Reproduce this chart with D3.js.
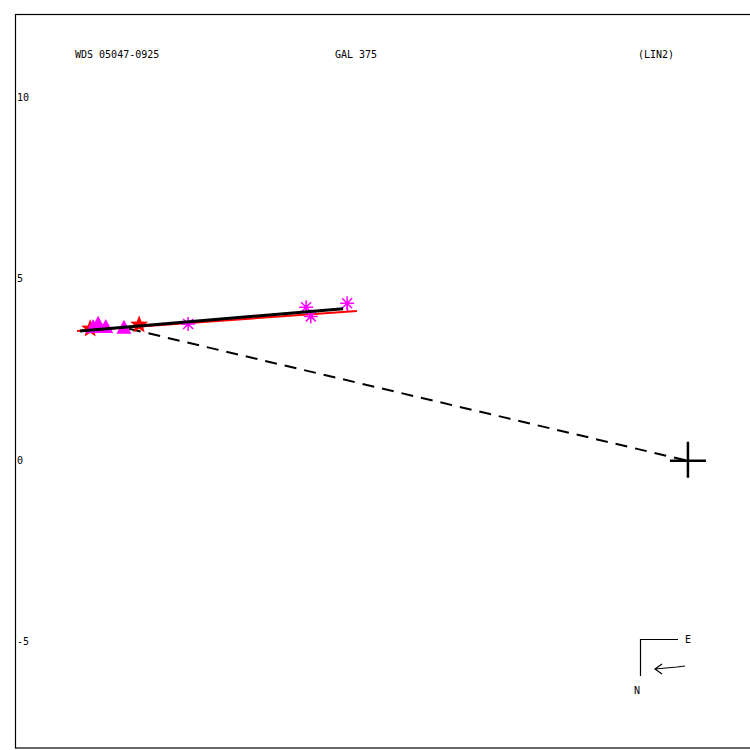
<!DOCTYPE html>
<html>
<head>
<meta charset="utf-8">
<script src="https://cdnjs.cloudflare.com/ajax/libs/d3/7.8.5/d3.min.js"></script>
<style>
  body { margin: 0; background: #fff; -webkit-font-smoothing: antialiased; }
  text { font-family: "DejaVu Sans Mono", monospace; font-size: 10px; fill: #000; }
</style>
</head>
<body>
<div id="chart"></div>
<script>
// header labels
var titles = ["WDS 05047-0925", "GAL 375", "(LIN2)"];
var yTicks = [10, 5, 0, -5];

// observations (arcsec)
var stars = [[-16.47, 3.64], [-15.12, 3.75]];
var triangles = [[-16.39, 3.66], [-16.25, 3.75], [-16.04, 3.66], [-15.54, 3.64]];
var asterisks = [[-13.77, 3.77], [-10.52, 4.23], [-10.39, 3.98], [-9.39, 4.34]];

// linear fits
var blackLine = [[-16.75, 3.58], [-9.50, 4.19]];
var redLine = [[-16.83, 3.58], [-9.12, 4.13]];
var dashLine = [[-15.4, 3.64], [0, 0]];

var W = 750, H = 750;
var svg = d3.select("#chart").append("svg").attr("width", W).attr("height", H);

var x = d3.scaleLinear().domain([-18.54, 1.71]).range([15, 750]);
var y = d3.scaleLinear().domain([12.31, -7.91]).range([14, 748]);

// frame
svg.append("rect").attr("x", 15.5).attr("y", 14.5).attr("width", 740).attr("height", 733.5)
  .attr("fill", "none").attr("stroke", "#000").attr("stroke-width", 1.2);

svg.selectAll(".title").data(titles).enter().append("text")
  .attr("x", function(d, i) { return [75, 335, 638][i]; })
  .attr("y", 58)
  .text(function(d) { return d; });

svg.selectAll(".ytick").data(yTicks).enter().append("text")
  .attr("x", 17).attr("y", function(d) { return y(d); })
  .attr("dominant-baseline", "middle")
  .text(function(d) { return d; });

var line = d3.line().x(function(d) { return x(d[0]); }).y(function(d) { return y(d[1]); });

// dashed line to primary
svg.append("path").attr("d", line(dashLine)).attr("stroke", "#000").attr("stroke-width", 2)
  .attr("stroke-dasharray", "12,8").attr("fill", "none");

// O-C residuals onto red fit
function project(p) {
  var a = redLine[0], b = redLine[1];
  var dx = b[0] - a[0], dy = b[1] - a[1];
  var t = ((p[0] - a[0]) * dx + (p[1] - a[1]) * dy) / (dx * dx + dy * dy);
  return [a[0] + t * dx, a[1] + t * dy];
}
var allPts = stars.concat(triangles, asterisks);
svg.selectAll(".oc").data(allPts).enter().append("path")
  .attr("d", function(d) { return line([d, project(d)]); })
  .attr("stroke", "#ff00ff").attr("stroke-width", 1.5).attr("fill", "none");

svg.append("path").attr("d", line(redLine)).attr("stroke", "#ff0000").attr("stroke-width", 2).attr("fill", "none");

// red stars
function starPath(r1, r2) {
  var pts = [];
  for (var i = 0; i < 10; i++) {
    var r = i % 2 ? r2 : r1, a = -Math.PI / 2 + i * Math.PI / 5;
    pts.push([r * Math.cos(a), r * Math.sin(a)]);
  }
  return "M" + pts.join("L") + "Z";
}
svg.selectAll(".star").data(stars).enter().append("path")
  .attr("d", starPath(9.5, 4))
  .attr("transform", function(d) { return "translate(" + x(d[0]) + "," + y(d[1]) + ")"; })
  .attr("fill", "#ff0000");

// magenta triangles
svg.selectAll(".tri").data(triangles).enter().append("path")
  .attr("d", "M0,-9L7.5,5L-7.5,5Z")
  .attr("transform", function(d) { return "translate(" + x(d[0]) + "," + y(d[1]) + ")"; })
  .attr("fill", "#ff00ff");

// magenta asterisks
svg.selectAll(".ast").data(asterisks).enter().append("path")
  .attr("d", "M-7,0L7,0M0,-7L0,7M-5,-5L5,5M-5,5L5,-5")
  .attr("transform", function(d) { return "translate(" + x(d[0]) + "," + y(d[1]) + ")"; })
  .attr("stroke", "#ff00ff").attr("stroke-width", 1.5).attr("fill", "none");

svg.append("path").attr("d", line(blackLine)).attr("stroke", "#000").attr("stroke-width", 3).attr("fill", "none");

// primary
svg.append("path")
  .attr("d", "M-18,0L18,0M0,-19L0,17")
  .attr("transform", "translate(" + x(0) + "," + y(0) + ")")
  .attr("stroke", "#000").attr("stroke-width", 2.5);

// compass
var cmp = svg.append("g").attr("fill", "none").attr("stroke", "#000").attr("stroke-width", 1.2);
cmp.append("path").attr("d", "M640.5,676V639.5H678");
cmp.append("path").attr("d", "M685,666L677,667L655,669M662,664L655,669L662,674");
svg.append("text").attr("x", 685).attr("y", 643).text("E");
svg.append("text").attr("x", 634).attr("y", 694).text("N");
</script>
</body>
</html>
